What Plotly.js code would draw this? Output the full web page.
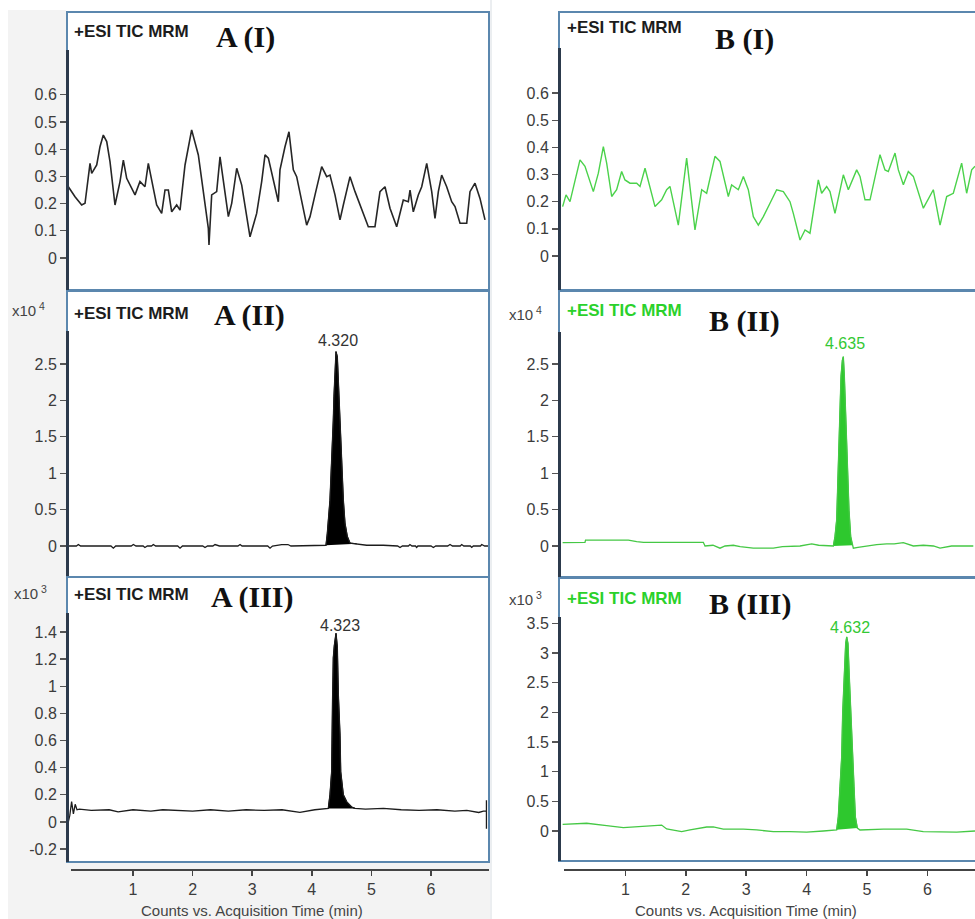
<!DOCTYPE html>
<html>
<head>
<meta charset="utf-8">
<script src="https://cdn.plot.ly/plotly-3.0.1.min.js"></script>
<style>html,body{margin:0;padding:0;background:#fff;}#chart{width:975px;height:919px;}</style>
</head>
<body>
<div id="chart"></div>
<script>
// ---------- DATA (time in min, intensity in axis units) ----------
const A1x = [-0.085,0.027,0.139,0.195,0.279,0.307,0.391,0.446,0.502,0.559,0.614,0.698,0.782,0.838,0.894,0.978,1.034,1.117,1.201,1.257,1.313,1.397,1.481,1.537,1.593,1.649,1.733,1.789,1.817,1.873,1.984,2.096,2.264,2.275,2.320,2.404,2.460,2.516,2.600,2.656,2.740,2.824,2.963,3.075,3.159,3.215,3.271,3.438,3.466,3.550,3.617,3.690,3.746,3.914,3.970,4.054,4.166,4.250,4.305,4.389,4.473,4.529,4.641,4.725,4.809,4.864,4.948,5.060,5.144,5.228,5.312,5.424,5.535,5.619,5.648,5.703,5.787,5.844,5.928,6.012,6.067,6.123,6.179,6.263,6.347,6.403,6.487,6.599,6.654,6.738,6.822,6.906];
const A1y = [0.262,0.225,0.195,0.201,0.348,0.311,0.342,0.409,0.452,0.428,0.354,0.195,0.281,0.360,0.293,0.256,0.232,0.281,0.262,0.348,0.287,0.195,0.164,0.250,0.250,0.170,0.195,0.176,0.232,0.342,0.471,0.379,0.109,0.048,0.232,0.244,0.372,0.281,0.152,0.201,0.330,0.268,0.078,0.164,0.281,0.379,0.367,0.207,0.324,0.409,0.464,0.324,0.299,0.121,0.152,0.232,0.336,0.299,0.305,0.232,0.140,0.195,0.299,0.244,0.195,0.170,0.115,0.115,0.244,0.262,0.183,0.115,0.213,0.207,0.250,0.170,0.232,0.262,0.348,0.244,0.146,0.244,0.305,0.262,0.207,0.189,0.128,0.128,0.244,0.275,0.219,0.140];

const A2x = [-0.085,0.05,0.083,0.12,0.63,0.67,0.71,0.97,1.006,1.05,1.17,1.2,1.24,1.31,1.341,1.38,1.75,1.789,1.83,2.17,2.208,2.25,2.34,2.376,2.45,2.76,2.796,2.83,3.26,3.299,3.34,3.45,3.494,3.6,3.65,
  4.238,4.260,4.305,4.333,4.350,4.361,4.372,4.389,4.406,4.428,4.456,4.473,4.490,4.507,4.529,4.557,4.596,4.641,4.753,4.921,
  5.2,5.44,5.48,5.52,5.62,5.647,5.68,5.74,5.759,5.78,6.0,6.039,6.08,6.28,6.319,6.36,6.49,6.515,6.55,6.66,6.683,6.71,6.83,6.851,6.9,6.97];
const A2y = [0,0,0.02,0,0,-0.03,0,0,0.02,0,0,-0.02,0,0,0.02,0,0,-0.03,0,0,-0.02,0,0,0.02,0,0,0.02,0,0,-0.03,0,0.02,0.02,0.02,0,
  0.01,0.17,0.63,1.09,1.46,1.73,2.05,2.42,2.67,2.60,2.05,1.73,1.41,0.91,0.63,0.31,0.13,0.04,0.03,0.01,
  0.01,0,-0.02,0,0,0.02,0,0,-0.02,0,0,-0.02,0,0,0.02,0,0,0.02,0,0,-0.02,0,0,0.02,0,0];

const A3x = [-0.085,-0.06,-0.03,0.0,0.03,0.06,0.1,0.3,0.6,0.75,1.0,1.3,1.5,1.7,2.0,2.3,2.6,2.9,3.2,3.5,3.8,4.05,4.2,
  4.277,4.305,4.333,4.344,4.361,4.378,4.406,4.428,4.445,4.473,4.485,4.529,4.585,4.669,4.725,
  4.9,5.2,5.5,5.8,6.1,6.4,6.6,6.8,6.88,6.93,6.93,6.93];
const A3y = [0.0,0.05,0.15,0.06,0.13,0.09,0.095,0.085,0.09,0.075,0.09,0.08,0.09,0.085,0.08,0.09,0.08,0.09,0.085,0.09,0.07,0.09,0.095,
  0.10,0.20,0.37,0.80,1.21,1.30,1.39,1.29,0.94,0.64,0.37,0.20,0.15,0.11,0.10,
  0.095,0.10,0.09,0.085,0.09,0.08,0.085,0.07,0.08,0.08,0.16,-0.05];

const B1x = [-0.039,0.017,0.083,0.248,0.331,0.469,0.552,0.635,0.690,0.773,0.855,0.938,0.993,1.076,1.187,1.242,1.325,1.407,1.490,1.600,1.683,1.738,1.876,2.014,2.070,2.152,2.263,2.345,2.483,2.566,2.704,2.759,2.870,2.953,3.035,3.118,3.201,3.284,3.394,3.504,3.615,3.725,3.780,3.891,3.974,4.056,4.194,4.249,4.332,4.387,4.470,4.608,4.691,4.829,4.884,4.967,5.050,5.215,5.298,5.353,5.464,5.519,5.602,5.684,5.767,5.933,6.098,6.209,6.319,6.429,6.567,6.650,6.733,6.788];
const B1y = [0.182,0.225,0.200,0.354,0.330,0.237,0.305,0.403,0.342,0.219,0.244,0.311,0.280,0.268,0.268,0.256,0.323,0.256,0.182,0.207,0.244,0.256,0.114,0.360,0.256,0.096,0.244,0.231,0.367,0.348,0.219,0.262,0.244,0.293,0.244,0.145,0.114,0.145,0.194,0.244,0.237,0.200,0.157,0.059,0.096,0.084,0.280,0.231,0.256,0.237,0.157,0.299,0.244,0.317,0.293,0.207,0.207,0.373,0.317,0.311,0.379,0.317,0.262,0.311,0.293,0.176,0.244,0.114,0.219,0.231,0.342,0.231,0.317,0.330];

const B2x = [-0.039,0.331,0.34,1.0,1.021,1.05,1.187,1.3,1.628,2.290,2.318,2.45,2.566,2.65,2.787,2.9,3.118,3.449,3.6,3.891,4.084,4.2,
  4.443,4.470,4.498,4.525,4.553,4.570,4.592,4.608,4.625,4.652,4.674,4.702,4.730,4.757,
  4.774,4.85,4.995,5.160,5.326,5.45,5.601,5.767,5.932,6.1,6.209,6.4,6.76];
const B2y = [0.045,0.05,0.08,0.08,0.09,0.08,0.06,0.05,0.05,0.05,0.0,0.01,-0.03,0.0,0.01,-0.01,-0.03,-0.03,-0.01,0.0,0.03,0.01,
  0.0,0.13,0.36,1.23,1.82,2.33,2.55,2.60,2.33,1.59,0.95,0.49,0.13,0.01,
  -0.03,-0.02,0.0,0.02,0.03,0.03,0.045,0.0,0.01,0.0,-0.03,0.0,0.0];

const B3x = [-0.039,0.359,0.690,0.966,1.600,1.683,1.932,2.070,2.346,2.456,2.621,2.953,3.174,3.449,3.725,4.001,4.277,
  4.498,4.525,4.553,4.581,4.597,4.619,4.647,4.664,4.685,4.707,4.730,4.746,4.763,4.785,4.807,4.840,
  4.884,5.270,5.657,5.932,6.485,6.788];
const B3y = [0.11,0.13,0.09,0.056,0.10,0.034,-0.01,0.02,0.067,0.07,0.03,0.03,0.017,-0.01,-0.01,-0.02,0.0,
  0.02,0.24,0.75,1.25,1.98,2.60,3.16,3.27,3.16,2.60,1.98,1.65,1.20,0.75,0.24,0.05,
  0.017,0.03,0.03,-0.01,-0.02,0.0];

// integrated peak windows (min) and retention-time labels
const peakWindows = {A2:[4.238,4.753], A3:[4.277,4.725], B2:[4.443,4.757], B3:[4.498,4.840]};
const rtLabels = {A2:"4.320", A3:"4.323", B2:"4.635", B3:"4.632"};
const panelTitles = ["A (I)","A (II)","A (III)","B (I)","B (II)","B (III)"];
const traceTitle = "+ESI TIC MRM";
const xTicks = [1,2,3,4,5,6];
const yTicksI = [0,0.1,0.2,0.3,0.4,0.5,0.6];
const yTicksII = [0,0.5,1,1.5,2,2.5];
const yTicksA3 = [-0.2,0,0.2,0.4,0.6,0.8,1,1.2,1.4];
const yTicksB3 = [0,0.5,1,1.5,2,2.5,3,3.5];
const xTitle = "Counts vs. Acquisition Time (min)";

// ---------- LAYOUT HELPERS ----------
const W = 975, H = 919;
const PX = v => v / W, PY = v => 1 - v / H;
const FONT = 'Arial, "Liberation Sans", sans-serif';
const SERIF = '"Times New Roman", "Liberation Serif", serif';
const BLACK = '#1c1c1c', GREENF = '#2ec82e';

const traces = [];
function addPanel(xs, ys, n, color, lw, win, fill) {
  const ax = n === 1 ? 'x' : 'x' + n, ay = n === 1 ? 'y' : 'y' + n;
  if (win) {
    const px = [], py = [];
    xs.forEach((v, i) => { if (v >= win[0] && v <= win[1]) { px.push(v); py.push(ys[i]); } });
    traces.push({x: px, y: py, xaxis: ax, yaxis: ay, type: 'scatter', mode: 'lines',
      fill: 'toself', fillcolor: fill, line: {color: fill, width: 1}, hoverinfo: 'skip'});
  }
  traces.push({x: xs, y: ys, xaxis: ax, yaxis: ay, type: 'scatter', mode: 'lines',
    line: {color: color, width: lw}, hoverinfo: 'skip'});
}
addPanel(A1x, A1y, 1, '#262626', 1.6);
addPanel(A2x, A2y, 2, BLACK, 1.3, peakWindows.A2, '#000');
addPanel(A3x, A3y, 3, BLACK, 1.3, peakWindows.A3, '#000');
addPanel(B1x, B1y, 4, '#4bd24b', 1.4);
addPanel(B2x, B2y, 5, '#45c845', 1.3, peakWindows.B2, GREENF);
addPanel(B3x, B3y, 6, '#45c845', 1.3, peakWindows.B3, GREENF);

// panel pixel boxes: [left, top, right, bottom]
const boxes = {
  1: [67, 12, 489, 290], 2: [67, 291, 489, 577], 3: [67, 577, 489, 862],
  4: [559, 12, 975, 290], 5: [559, 291, 975, 577], 6: [559, 578, 975, 861]
};
const yRanges = {1: [-0.1176, 0.9044], 2: [-0.426, 3.503], 3: [-0.295, 1.805],
  4: [-0.125, 0.898], 5: [-0.426, 3.503], 6: [-0.506, 4.264]};
const xRangeL = [-0.1074, 6.973], xRangeR = [-0.0993, 6.788];
const yTickSets = {1: yTicksI, 2: yTicksII, 3: yTicksA3, 4: yTicksI, 5: yTicksII, 6: yTicksB3};

const layout = {
  width: W, height: H, margin: {l: 0, r: 0, t: 0, b: 0},
  paper_bgcolor: '#ffffff', plot_bgcolor: '#ffffff', showlegend: false,
  shapes: [], annotations: []
};

for (let n = 1; n <= 6; n++) {
  const b = boxes[n];
  const left = n <= 3;
  const xk = n === 1 ? 'xaxis' : 'xaxis' + n, yk = n === 1 ? 'yaxis' : 'yaxis' + n;
  const xa = n === 1 ? 'x' : 'x' + n, ya = n === 1 ? 'y' : 'y' + n;
  const xax = {domain: [PX(b[0]), PX(b[2])], range: left ? xRangeL : xRangeR, anchor: ya,
    showgrid: false, zeroline: false, showline: false, fixedrange: true,
    showticklabels: false, ticks: ''};
  if (n === 3 || n === 6) {
    Object.assign(xax, {anchor: 'free', position: PY(870), showticklabels: true, ticks: 'outside',
      ticklen: 5, tickwidth: 1.5, tickcolor: '#444', tickvals: xTicks,
      tickfont: {family: FONT, size: 16, color: '#3c3c3c'}});
  }
  layout[xk] = xax;
  const tv = yTickSets[n];
  layout[yk] = {domain: [PY(b[3]), PY(b[1])], range: yRanges[n], anchor: xa,
    tickvals: tv, ticktext: tv.map(v => String(v)), ticks: 'outside', ticklen: 6, tickwidth: 1.3,
    tickcolor: '#555', tickfont: {family: FONT, size: 16, color: '#3c3c3c'},
    showgrid: false, zeroline: false, showline: false, fixedrange: true};
}

// background tint left margin
layout.shapes.push({type: 'rect', xref: 'paper', yref: 'paper', x0: PX(8), x1: PX(66), y0: PY(919), y1: PY(10),
  fillcolor: '#f3f3f3', line: {width: 0}, layer: 'below'});
layout.shapes.push({type: 'rect', xref: 'paper', yref: 'paper', x0: PX(8), x1: PX(490), y0: PY(919), y1: PY(863),
  fillcolor: '#f3f3f3', line: {width: 0}, layer: 'below'});
layout.shapes.push({type: 'line', xref: 'paper', yref: 'paper', x0: PX(491), x1: PX(491), y0: PY(919), y1: PY(0),
  line: {color: '#d8dde2', width: 1}, layer: 'below'});

// frames and dark y axis lines
const axisTop = {1: 50, 2: 331, 3: 613, 4: 48, 5: 332, 6: 617};
for (let n = 1; n <= 6; n++) {
  const b = boxes[n];
  layout.shapes.push({type: 'rect', xref: 'paper', yref: 'paper', x0: PX(b[0]), x1: PX(n > 3 ? 985 : b[2]),
    y0: PY(b[3]), y1: PY(b[1]), line: {color: '#5b87ae', width: 2}, fillcolor: 'rgba(0,0,0,0)', layer: 'above'});
  layout.shapes.push({type: 'line', xref: 'paper', yref: 'paper', x0: PX(b[0] + 0.5), x1: PX(b[0] + 0.5),
    y0: PY(b[3]), y1: PY(axisTop[n]), line: {color: '#2c3a4c', width: 3}, layer: 'above'});
}
// bottom time axes lines
layout.shapes.push({type: 'line', xref: 'paper', yref: 'paper', x0: PX(71), x1: PX(489), y0: PY(870), y1: PY(870),
  line: {color: '#444', width: 2}});
layout.shapes.push({type: 'line', xref: 'paper', yref: 'paper', x0: PX(564), x1: PX(975), y0: PY(870), y1: PY(870),
  line: {color: '#444', width: 2}});

function ann(text, x, y, opt) {
  layout.annotations.push(Object.assign({text: text, xref: 'paper', yref: 'paper', x: PX(x), y: PY(y),
    showarrow: false, xanchor: 'center', yanchor: 'middle'}, opt));
}
// ESI headers
const esiPos = [[72, 31, BLACK], [72, 313, BLACK], [72, 594, BLACK], [565, 28, BLACK], [565, 310, '#2bd12b'], [565, 598, '#2bd12b']];
esiPos.forEach(p => ann(traceTitle, p[0], p[1], {xanchor: 'left', font: {family: FONT, size: 17, color: p[2], weight: 700}}));
// panel titles
const tPos = [[246, 37], [250, 315], [252, 597], [744, 39], [744, 321], [750, 604]];
tPos.forEach((p, i) => ann('<b>' + panelTitles[i] + '</b>', p[0], p[1], {font: {family: SERIF, size: 30, color: '#111'}}));
// multipliers
[[10, 309, '4'], [12, 592, '3'], [507, 313, '4'], [507, 598, '3']].forEach(p =>
  ann('x10<sup> ' + p[2] + '</sup>', p[0], p[1], {xanchor: 'left', font: {family: FONT, size: 15, color: '#444'}}));
// retention-time labels
ann(rtLabels.A2, 338, 340, {font: {family: FONT, size: 16, color: '#333'}});
ann(rtLabels.A3, 340, 625, {font: {family: FONT, size: 16, color: '#333'}});
ann(rtLabels.B2, 845, 343, {font: {family: FONT, size: 16, color: '#33c833'}});
ann(rtLabels.B3, 850, 627, {font: {family: FONT, size: 16, color: '#33c833'}});
// axis titles
ann(xTitle, 252, 910, {font: {family: FONT, size: 15, color: '#444'}});
ann(xTitle, 746, 910, {font: {family: FONT, size: 15, color: '#444'}});

Plotly.newPlot('chart', traces, layout, {staticPlot: true, displayModeBar: false});
</script>
</body>
</html>
